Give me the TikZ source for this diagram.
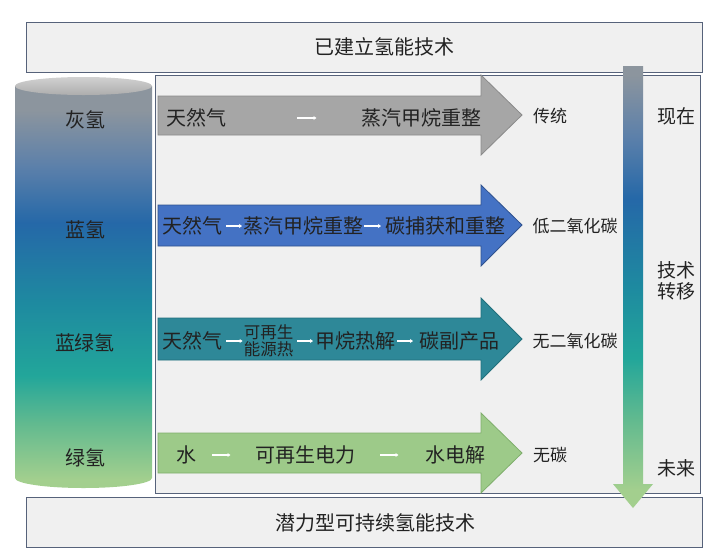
\documentclass[tikz,border=0pt]{standalone}
\usepackage{fontspec}
\setmainfont{Noto Sans CJK SC}
\usetikzlibrary{arrows.meta}
\definecolor{bgpanel}{HTML}{F0F0F0}
\definecolor{bordc}{HTML}{56627A}
\definecolor{txt}{HTML}{222222}
\definecolor{cG}{HTML}{A3CF8E}
\definecolor{cG2}{HTML}{62BA8F}
\definecolor{cT}{HTML}{22A69A}
\definecolor{cT2}{HTML}{1E8AA0}
\definecolor{cB}{HTML}{2568A8}
\definecolor{cB2}{HTML}{5C80AA}
\definecolor{cGr}{HTML}{8C959E}
\definecolor{agrey}{HTML}{A6A6A6}
\definecolor{agreyd}{HTML}{8A8A8A}
\definecolor{ablue}{HTML}{4472C4}
\definecolor{ablued}{HTML}{2F528F}
\definecolor{ateal}{HTML}{2E8898}
\definecolor{ateald}{HTML}{21707C}
\definecolor{agreen}{HTML}{9DCA89}
\definecolor{agreend}{HTML}{7FAE6C}
\pgfdeclareverticalshading{hyd}{100bp}{color(0bp)=(cG); color(26bp)=(cG); color(33bp)=(cG2); color(39bp)=(cT); color(48bp)=(cT2); color(58bp)=(cB); color(65bp)=(cB2); color(72bp)=(cGr); color(100bp)=(cGr)}
\pgfdeclareverticalshading{trend}{100bp}{color(0bp)=(cG); color(27bp)=(cG); color(35bp)=(cG2); color(42bp)=(cT); color(50bp)=(cT2); color(60bp)=(cB); color(67bp)=(cB2); color(74bp)=(cGr); color(100bp)=(cGr)}
\tikzset{
  banner/.style={draw=bordc, line width=0.8pt, fill=bgpanel, minimum width=676pt, minimum height=50pt, inner sep=0pt},
  bantxt/.style={font=\fontsize{20}{20}\selectfont, text=txt, inner sep=0pt},
  panelbox/.style={draw=bordc, line width=0.8pt, fill=bgpanel},
  cyltxt/.style={font=\fontsize{20}{20}\selectfont, text=txt, inner sep=0pt},
  atxt/.style={font=\fontsize{20}{20}\selectfont, text=txt, inner sep=0pt},
  stxt/.style={font=\fontsize{16.5}{17}\selectfont, text=txt, inner sep=0pt, align=center},
  rtxt/.style={font=\fontsize{17}{17}\selectfont, text=txt, inner sep=0pt},
  ftxt/.style={font=\fontsize{19}{21}\selectfont, text=txt, inner sep=0pt, align=center},
  warr/.style={white, line width=1.2pt, -{Stealth[length=3pt,width=4pt]}},
  bigarr/.style={line width=0.8pt, line join=miter}
}
\begin{document}
\begin{tikzpicture}[x=1pt,y=-1pt]
\useasboundingbox (0,0) rectangle (716,558);
\fill[white] (0,0) rectangle (716,558);
% banners and panel
\node[banner] (top) at (364,47) {};
\node[bantxt] (toptxt) at (384,47) {已建立氢能技术};
\node[panelbox, minimum width=545pt, minimum height=418pt, inner sep=0pt] (panel) at (427.5,284) {};
\node[banner] (bottom) at (364,522.5) {};
\node[bantxt] (bottomtxt) at (375,522.5) {潜力型可持续氢能技术};
% cylinder
\shade[shading=hyd] (15,86) -- (15,478) arc[start angle=180, end angle=0, x radius=68.5, y radius=10] -- (152,86) -- cycle;
\shade[top color=black!18, bottom color=black!32] (83.5,86) ellipse[x radius=68.5, y radius=9];
\node[cyltxt] (grey) at (85,120) {灰氢};
\node[cyltxt] (blue) at (85,230) {蓝氢};
\node[cyltxt] (turq) at (85,343) {蓝绿氢};
\node[cyltxt] (green) at (85,458) {绿氢};
% arrow 1
\draw[bigarr, fill=agrey, draw=agreyd] (158,96) -- (481,96) -- (481,75) -- (522,115) -- (481,155) -- (481,135) -- (158,135) -- cycle;
\node[atxt, anchor=west] (g1) at (166,118) {天然气};
\node[atxt, anchor=west] (g2) at (361,118) {蒸汽甲烷重整};
\draw[warr] (g1.east) ++(71,0) coordinate (g1a) -- ++(19,0) coordinate (g1b);
\node[rtxt] (r1) at (550,116) {传统};
% arrow 2
\draw[bigarr, fill=ablue, draw=ablued] (158,205) -- (481,205) -- (481,185) -- (522,225) -- (481,266) -- (481,246) -- (158,246) -- cycle;
\node[atxt, anchor=west] (b1) at (162,226) {天然气};
\node[atxt, anchor=west] (b2) at (243,226) {蒸汽甲烷重整};
\node[atxt, anchor=west] (b3) at (385,226) {碳捕获和重整};
\draw[warr] (b1.east) ++(4,0) -- ([xshift=-1pt]b2.west);
\draw[warr] (b2.east) ++(1,0) -- ([xshift=-4pt]b3.west);
\node[rtxt] (r2) at (575,226) {低二氧化碳};
% arrow 3
\draw[bigarr, fill=ateal, draw=ateald] (158,318) -- (481,318) -- (481,298) -- (522,339) -- (481,380) -- (481,360) -- (158,360) -- cycle;
\node[atxt, anchor=west] (t1) at (162,341) {天然气};
\node[stxt] (t2) at (268.5,341) {可再生\\能源热};
\node[atxt, anchor=west] (t3) at (315,341) {甲烷热解};
\node[atxt, anchor=west] (t4) at (419,341) {碳副产品};
\draw[warr] (t1.east) ++(4,0) -- ([xshift=-1pt]t2.west);
\draw[warr] (t2.east) ++(4,0) -- ([xshift=-2pt]t3.west);
\draw[warr] (t3.east) ++(2,0) -- ([xshift=-6pt]t4.west);
\node[rtxt] (r3) at (575,341) {无二氧化碳};
% arrow 4
\draw[bigarr, fill=agreen, draw=agreend] (158,433) -- (481,433) -- (481,413) -- (522,453) -- (481,493) -- (481,473) -- (158,473) -- cycle;
\node[atxt, anchor=west] (w1) at (176,455) {水};
\node[atxt, anchor=west] (w2) at (255,455) {可再生电力};
\node[atxt, anchor=west] (w3) at (425,455) {水电解};
\draw[warr] (w1.east) ++(16,0) -- ++(18,0);
\draw[warr] (w2.east) ++(25,0) -- ++(18,0);
\node[rtxt] (r4) at (550,455) {无碳};
% transition arrow
\shade[shading=trend] (623,66) -- (643,66) -- (643,484) -- (653,484) -- (633,508) -- (613,484) -- (623,484) -- cycle;
\node[ftxt] (now) at (676,116) {现在};
\node[ftxt] (shift) at (676,281) {技术\\转移};
\node[ftxt] (future) at (676,468) {未来};
\end{tikzpicture}
\end{document}
